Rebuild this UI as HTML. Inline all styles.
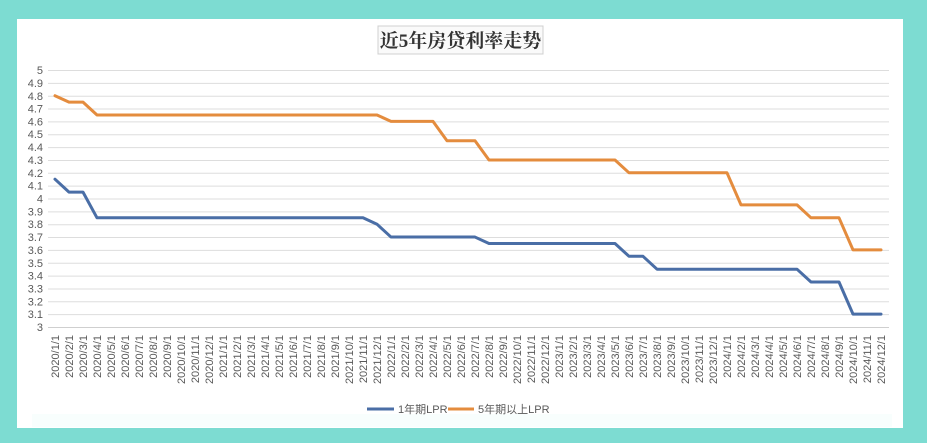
<!DOCTYPE html>
<html>
<head>
<meta charset="utf-8">
<style>
html,body{margin:0;padding:0;background:#7DDCD2;}
body{width:927px;height:443px;overflow:hidden;}
svg{display:block;}
</style>
</head>
<body>
<svg width="927" height="443" viewBox="0 0 927 443" xmlns="http://www.w3.org/2000/svg">
  <rect x="0" y="0" width="927" height="443" fill="#7DDCD2"/>
  <rect x="17" y="19" width="886" height="409" fill="#FFFFFF"/>
  <rect x="32" y="414" width="860" height="13" fill="#F8FEFD"/>

  <!-- title -->
  <rect x="378" y="26" width="165" height="28" fill="#FAFAFA" stroke="#D0D0D0" stroke-width="1"/>
  <text x="460.5" y="47" text-anchor="middle" font-family="'Liberation Serif','Noto Serif CJK SC',serif" font-weight="bold" font-size="19" fill="#333333">近5年房贷利率走势</text>

  <!-- gridlines -->
  <g stroke="#DDDDDD" stroke-width="1">
    <line x1="48" x2="889" y1="70.5" y2="70.5"/>
    <line x1="48" x2="889" y1="83.35" y2="83.35"/>
    <line x1="48" x2="889" y1="96.2" y2="96.2"/>
    <line x1="48" x2="889" y1="109.05" y2="109.05"/>
    <line x1="48" x2="889" y1="121.9" y2="121.9"/>
    <line x1="48" x2="889" y1="134.75" y2="134.75"/>
    <line x1="48" x2="889" y1="147.6" y2="147.6"/>
    <line x1="48" x2="889" y1="160.45" y2="160.45"/>
    <line x1="48" x2="889" y1="173.3" y2="173.3"/>
    <line x1="48" x2="889" y1="186.15" y2="186.15"/>
    <line x1="48" x2="889" y1="199" y2="199"/>
    <line x1="48" x2="889" y1="211.85" y2="211.85"/>
    <line x1="48" x2="889" y1="224.7" y2="224.7"/>
    <line x1="48" x2="889" y1="237.55" y2="237.55"/>
    <line x1="48" x2="889" y1="250.4" y2="250.4"/>
    <line x1="48" x2="889" y1="263.25" y2="263.25"/>
    <line x1="48" x2="889" y1="276.1" y2="276.1"/>
    <line x1="48" x2="889" y1="288.95" y2="288.95"/>
    <line x1="48" x2="889" y1="301.8" y2="301.8"/>
    <line x1="48" x2="889" y1="314.65" y2="314.65"/>
  </g>
  <line x1="48" x2="889" y1="327.5" y2="327.5" stroke="#CFCFCF" stroke-width="1"/>

  <!-- y labels -->
  <g font-family="'Liberation Sans',sans-serif" font-size="11" fill="#595959" text-anchor="end">
    <text x="43" y="74">5</text>
    <text x="43" y="87">4.9</text>
    <text x="43" y="100">4.8</text>
    <text x="43" y="112.5">4.7</text>
    <text x="43" y="125.5">4.6</text>
    <text x="43" y="138">4.5</text>
    <text x="43" y="151">4.4</text>
    <text x="43" y="164">4.3</text>
    <text x="43" y="177">4.2</text>
    <text x="43" y="189.5">4.1</text>
    <text x="43" y="202.5">4</text>
    <text x="43" y="215.5">3.9</text>
    <text x="43" y="228">3.8</text>
    <text x="43" y="241">3.7</text>
    <text x="43" y="254">3.6</text>
    <text x="43" y="267">3.5</text>
    <text x="43" y="279.5">3.4</text>
    <text x="43" y="292.5">3.3</text>
    <text x="43" y="305.5">3.2</text>
    <text x="43" y="318">3.1</text>
    <text x="43" y="331">3</text>
  </g>

  <!-- x labels -->
  <g font-family="'Liberation Sans',sans-serif" font-size="11" fill="#595959" text-anchor="end">
    <text transform="translate(59,335) rotate(-90)">2020/1/1</text>
    <text transform="translate(73,335) rotate(-90)">2020/2/1</text>
    <text transform="translate(87,335) rotate(-90)">2020/3/1</text>
    <text transform="translate(101,335) rotate(-90)">2020/4/1</text>
    <text transform="translate(115,335) rotate(-90)">2020/5/1</text>
    <text transform="translate(129,335) rotate(-90)">2020/6/1</text>
    <text transform="translate(143,335) rotate(-90)">2020/7/1</text>
    <text transform="translate(157,335) rotate(-90)">2020/8/1</text>
    <text transform="translate(171,335) rotate(-90)">2020/9/1</text>
    <text transform="translate(185,335) rotate(-90)">2020/10/1</text>
    <text transform="translate(199,335) rotate(-90)">2020/11/1</text>
    <text transform="translate(213,335) rotate(-90)">2020/12/1</text>
    <text transform="translate(227,335) rotate(-90)">2021/1/1</text>
    <text transform="translate(241,335) rotate(-90)">2021/2/1</text>
    <text transform="translate(255,335) rotate(-90)">2021/3/1</text>
    <text transform="translate(269,335) rotate(-90)">2021/4/1</text>
    <text transform="translate(283,335) rotate(-90)">2021/5/1</text>
    <text transform="translate(297,335) rotate(-90)">2021/6/1</text>
    <text transform="translate(311,335) rotate(-90)">2021/7/1</text>
    <text transform="translate(325,335) rotate(-90)">2021/8/1</text>
    <text transform="translate(339,335) rotate(-90)">2021/9/1</text>
    <text transform="translate(353,335) rotate(-90)">2021/10/1</text>
    <text transform="translate(367,335) rotate(-90)">2021/11/1</text>
    <text transform="translate(381,335) rotate(-90)">2021/12/1</text>
    <text transform="translate(395,335) rotate(-90)">2022/1/1</text>
    <text transform="translate(409,335) rotate(-90)">2022/2/1</text>
    <text transform="translate(423,335) rotate(-90)">2022/3/1</text>
    <text transform="translate(437,335) rotate(-90)">2022/4/1</text>
    <text transform="translate(451,335) rotate(-90)">2022/5/1</text>
    <text transform="translate(465,335) rotate(-90)">2022/6/1</text>
    <text transform="translate(479,335) rotate(-90)">2022/7/1</text>
    <text transform="translate(493,335) rotate(-90)">2022/8/1</text>
    <text transform="translate(507,335) rotate(-90)">2022/9/1</text>
    <text transform="translate(521,335) rotate(-90)">2022/10/1</text>
    <text transform="translate(535,335) rotate(-90)">2022/11/1</text>
    <text transform="translate(549,335) rotate(-90)">2022/12/1</text>
    <text transform="translate(563,335) rotate(-90)">2023/1/1</text>
    <text transform="translate(577,335) rotate(-90)">2023/2/1</text>
    <text transform="translate(591,335) rotate(-90)">2023/3/1</text>
    <text transform="translate(605,335) rotate(-90)">2023/4/1</text>
    <text transform="translate(619,335) rotate(-90)">2023/5/1</text>
    <text transform="translate(633,335) rotate(-90)">2023/6/1</text>
    <text transform="translate(647,335) rotate(-90)">2023/7/1</text>
    <text transform="translate(661,335) rotate(-90)">2023/8/1</text>
    <text transform="translate(675,335) rotate(-90)">2023/9/1</text>
    <text transform="translate(689,335) rotate(-90)">2023/10/1</text>
    <text transform="translate(703,335) rotate(-90)">2023/11/1</text>
    <text transform="translate(717,335) rotate(-90)">2023/12/1</text>
    <text transform="translate(731,335) rotate(-90)">2024/1/1</text>
    <text transform="translate(745,335) rotate(-90)">2024/2/1</text>
    <text transform="translate(759,335) rotate(-90)">2024/3/1</text>
    <text transform="translate(773,335) rotate(-90)">2024/4/1</text>
    <text transform="translate(787,335) rotate(-90)">2024/5/1</text>
    <text transform="translate(801,335) rotate(-90)">2024/6/1</text>
    <text transform="translate(815,335) rotate(-90)">2024/7/1</text>
    <text transform="translate(829,335) rotate(-90)">2024/8/1</text>
    <text transform="translate(843,335) rotate(-90)">2024/9/1</text>
    <text transform="translate(857,335) rotate(-90)">2024/10/1</text>
    <text transform="translate(871,335) rotate(-90)">2024/11/1</text>
    <text transform="translate(885,335) rotate(-90)">2024/12/1</text>
  </g>

  <!-- series -->
  <polyline fill="none" stroke="#4A6EA6" stroke-width="3" stroke-linejoin="round" stroke-linecap="round"
    points="55,179.2 69,192.1 83,192.1 97,217.8 363,217.8 377,224.2 391,237.05 475,237.05 489,243.5 615,243.5 629,256.3 643,256.3 657,269.2 797,269.2 811,282 839,282 853,314.15 881,314.15"/>
  <polyline fill="none" stroke="#E48C3E" stroke-width="3" stroke-linejoin="round" stroke-linecap="round"
    points="55,95.7 69,102.1 83,102.1 97,115 377,115 391,121.4 433,121.4 447,140.7 475,140.7 489,160 615,160 629,172.8 727,172.8 741,204.9 797,204.9 811,217.8 839,217.8 853,249.9 881,249.9"/>

  <!-- legend -->
  <line x1="367" x2="394" y1="409" y2="409" stroke="#4A6EA6" stroke-width="3"/>
  <text x="398" y="413" font-family="'Liberation Sans','Noto Sans CJK SC',sans-serif" font-size="11" fill="#595959">1年期LPR</text>
  <line x1="448" x2="474" y1="409" y2="409" stroke="#E48C3E" stroke-width="3"/>
  <text x="478" y="413" font-family="'Liberation Sans','Noto Sans CJK SC',sans-serif" font-size="11" fill="#595959">5年期以上LPR</text>
</svg>
</body>
</html>
